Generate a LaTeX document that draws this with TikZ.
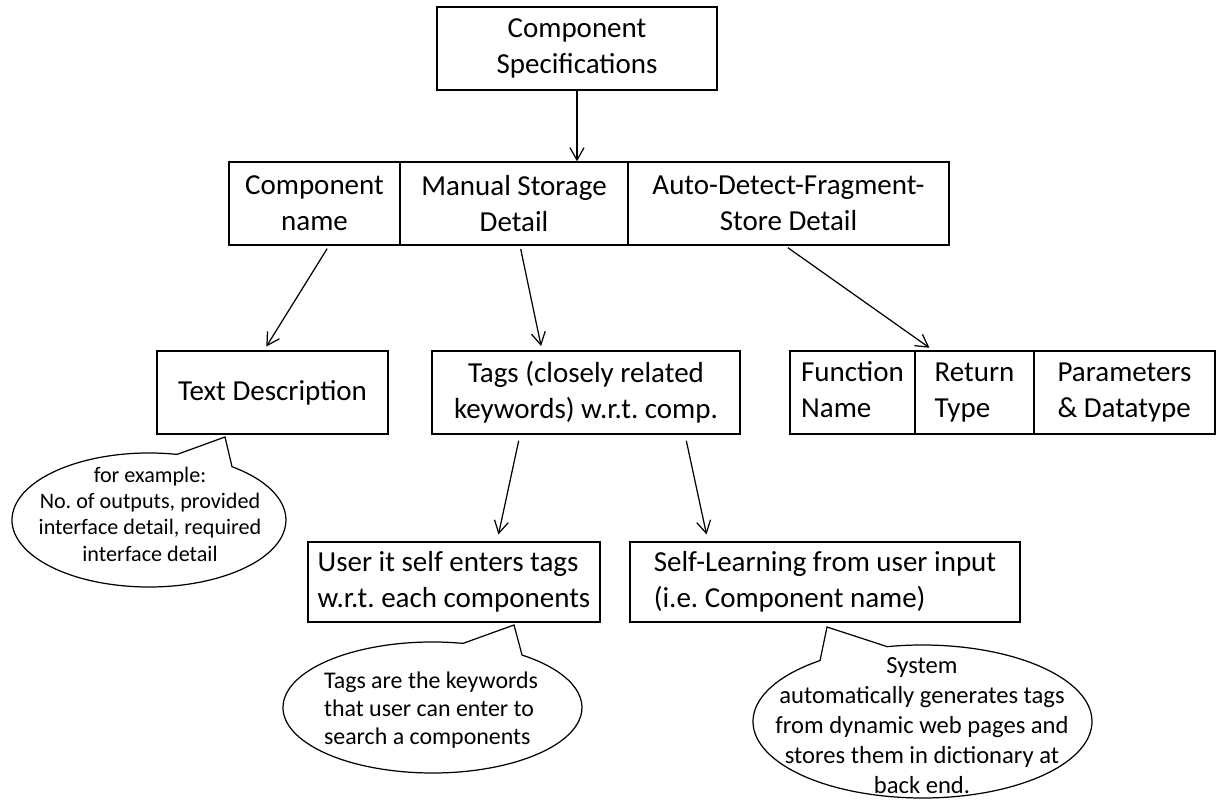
\documentclass[tikz,border=0pt]{standalone}
\usepackage{fontspec}
\setmainfont{Carlito}
\usetikzlibrary{arrows.meta,calc}
\frenchspacing
\begin{document}
\begin{tikzpicture}[x=0.02cm,y=0.02cm,
  box/.style={draw, line width=0.8pt, inner sep=2pt,
    font=\fontsize{16.5}{20.5}\selectfont, minimum height=1.66cm},
  arr/.style={-{Straight Barb[length=7pt,width=8pt]}, line width=0.7pt,
    shorten <=2pt, shorten >=2.5pt},
  bubble/.style={line width=0.7pt},
  note/.style={inner sep=0pt}]
\useasboundingbox (0,0) rectangle (1220,801);

% top node
\node[box, minimum width=5.6cm, align=center] (spec) at (577,752.5)
  {Component\\Specifications};

% second row: three adjacent cells
\node[box, minimum width=3.42cm, align=center] (cn) at (314.5,597.5)
  {Component\\name};
\node[box, minimum width=4.56cm, align=center] (ms) at (514,597.5)
  {Manual Storage\\Detail};
\node[box, minimum width=6.42cm, align=center] (ad) at (788.5,597.5)
  {Auto-Detect-Fragment-\\Store Detail};

% third row
\node[box, minimum width=4.62cm] (td) at (272.5,408.5) {Text Description};
\node[box, minimum width=6.16cm, align=center] (tags) at (586,408.5)
  {Tags (closely related\\keywords) w.r.t. comp.};
\node[box, minimum width=2.5cm, align=left] (fn) at (852.5,408.5)
  {Function\strut\\Name\strut};
\node[box, minimum width=2.38cm, align=left] (rt) at (974.5,408.5)
  {Return\strut\\Type\strut};
\node[box, minimum width=3.62cm, align=left] (pd) at (1124.5,408.5)
  {Parameters\strut\\\& Datatype\strut};

% fourth row
\node[box, minimum width=5.84cm, minimum height=1.6cm, align=left] (user) at (454,219)
  {User it self enters tags\\w.r.t. each components};
\node[box, minimum width=7.8cm, minimum height=1.6cm, align=left] (self) at (825,219)
  {Self-Learning from user input\\(i.e. Component name)};

% connectors
\draw[arr, shorten <=0pt, shorten >=0pt] (spec.south) -- (spec.south |- ms.north);
\draw[arr] ($(cn.south)+(14.5,0)$) -- ($(td.north)+(-8.5,0)$);
\draw[arr] ($(ms.south)+(6,0)$) -- ($(tags.north)+(-44,0)$);
\draw[arr] ($(ad.south)+(-3.5,0)$) -- ($(rt.north)+(-41.5,0)$);
\draw[arr, shorten <=3.5pt, shorten >=4pt] ($(tags.south)+(-66,0)$) -- ($(user.north)+(43,0)$);
\draw[arr, shorten <=3.5pt, shorten >=4pt] ($(tags.south)+(99,0)$) -- ($(self.north)+(-117,0)$);

% speech bubbles
\draw[bubble] ($(149,281)+(78.2:137 and 67)$)
  arc[start angle=78.2, end angle=412.7, x radius=137, y radius=67]
  -- (225,364) -- cycle;
\draw[bubble] ($(432.5,93.5)+(78.2:149.5 and 65.5)$)
  arc[start angle=78.2, end angle=413.2, x radius=149.5, y radius=65.5]
  -- (514,176) -- cycle;
\draw[bubble] ($(922.5,79.5)+(127.2:169.5 and 76.5)$)
  arc[start angle=127.2, end angle=462, x radius=169.5, y radius=76.5]
  -- (827,174) -- cycle;

% bubble texts
\node[note, align=center, font=\fontsize{12.6}{15}\selectfont] (n1) at (150,287)
  {for example:\\No. of outputs, provided\\interface detail, required\\interface detail};
\node[note, align=left, font=\fontsize{13.6}{16}\selectfont] (n2) at (431,91)
  {Tags are the keywords\\that user can enter to\\search a components};
\node[note, align=center, font=\fontsize{14}{17}\selectfont] (n3) at (922,75.5)
  {System\\automatically generates tags\\from dynamic web pages and\\stores them in dictionary at\\back end.};
\end{tikzpicture}
\end{document}
